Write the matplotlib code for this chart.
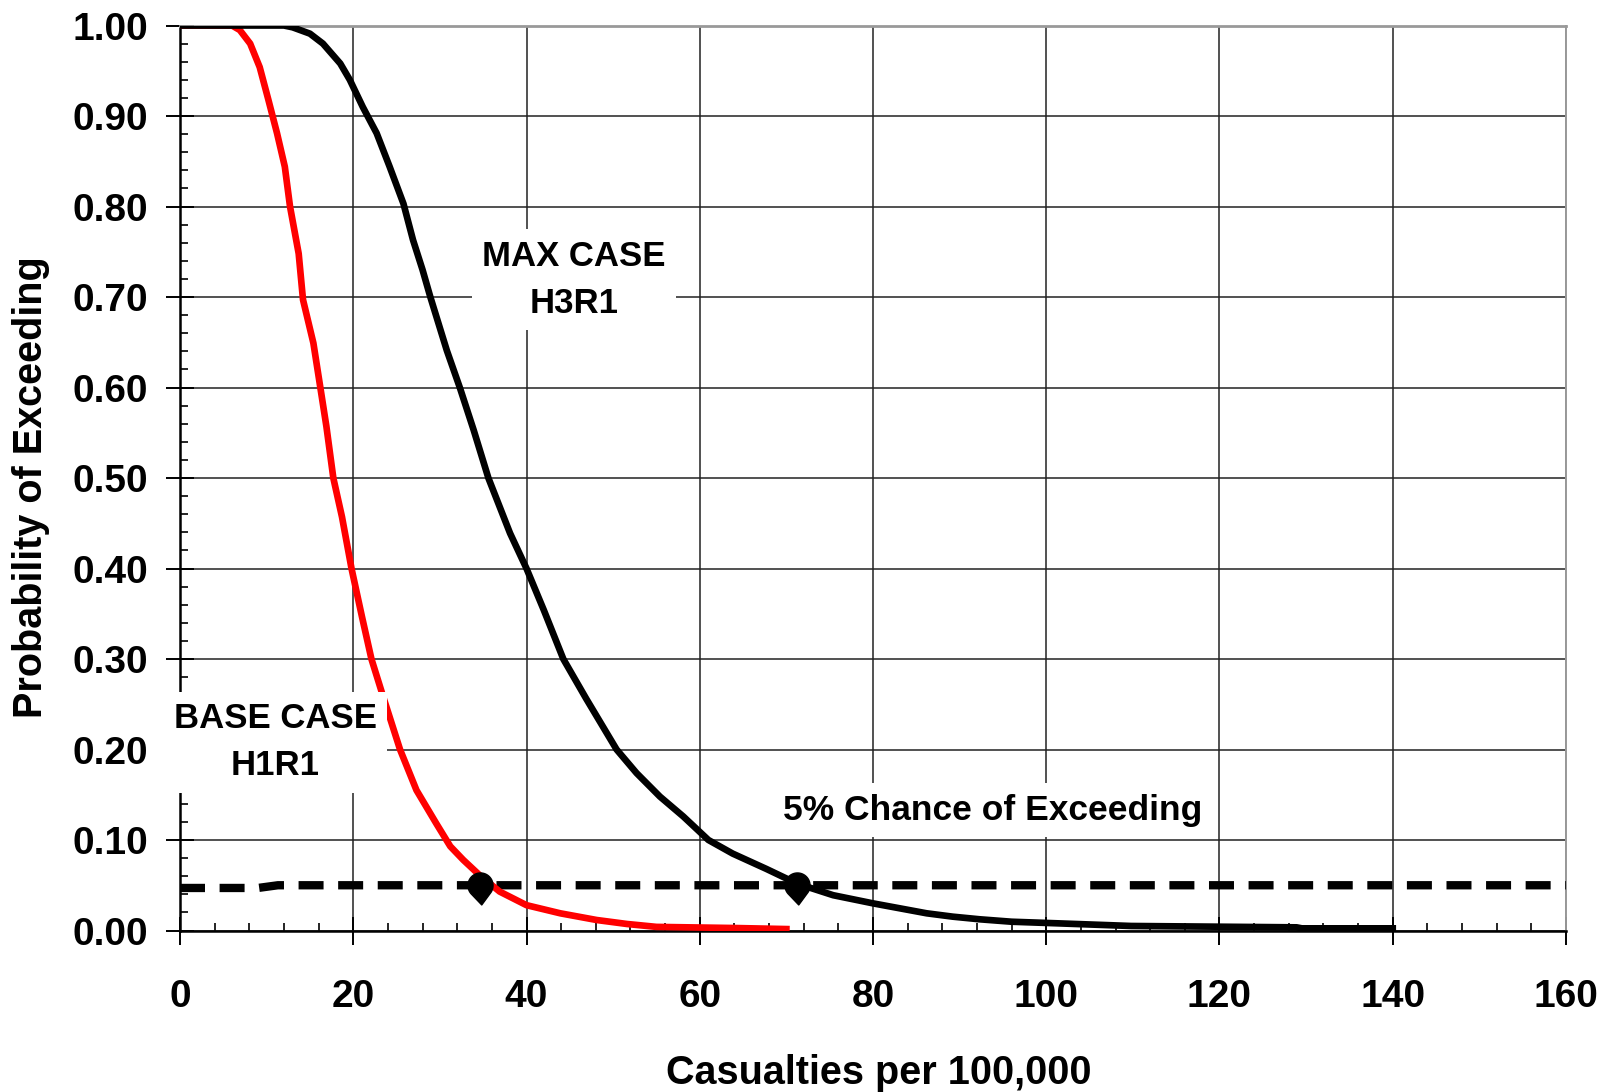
import numpy as np
import matplotlib
matplotlib.use('Agg')
import matplotlib.pyplot as plt
import matplotlib.path as mpath
from matplotlib.ticker import MultipleLocator, FormatStrFormatter

plt.rcParams['font.family'] = ['Liberation Sans', 'DejaVu Sans']
plt.rcParams['font.weight'] = 'bold'

# base case H1R1 (red)
base_x = [0, 6, 6.9, 8.1, 9.2, 10.2, 11.2, 12.1, 12.7, 13.7, 14.2, 15.4, 16.2,
          16.9, 17.7, 18.7, 19.8, 21.0, 22.1, 23.4, 25.4, 27.3, 29.6, 31.2,
          32.7, 34.6, 36.9, 40.0, 43.9, 48.1, 51.6, 55.0, 64.3, 70.0]
base_p = [1.0, 1.0, 0.995, 0.98, 0.954, 0.918, 0.881, 0.844, 0.80, 0.748, 0.697,
          0.649, 0.60, 0.557, 0.50, 0.457, 0.40, 0.347, 0.30, 0.26, 0.20, 0.155,
          0.118, 0.093, 0.078, 0.061, 0.043, 0.028, 0.019, 0.0116, 0.0072,
          0.004, 0.0027, 0.0016]

# max case H3R1 (black)
max_x = [0, 12, 13, 15, 16.5, 18.5, 19.6, 21.1, 22.7, 24.2, 25.8, 26.9, 28.0,
         28.9, 30.8, 32.3, 33.9, 35.6, 38.1, 40.0, 42.0, 44.25, 46.9, 50.4,
         52.7, 55.4, 58.1, 61.0, 63.8, 67.7, 71.2, 75.4, 80.0, 83.1, 86.2,
         89.2, 92.3, 96.0, 101.4, 109.8, 128.9, 129.5, 140.0]
max_p = [1.0, 1.0, 0.998, 0.991, 0.98, 0.958, 0.94, 0.91, 0.881, 0.844, 0.803,
         0.763, 0.73, 0.70, 0.641, 0.60, 0.553, 0.50, 0.439, 0.40, 0.354, 0.30,
         0.256, 0.20, 0.174, 0.148, 0.126, 0.10, 0.085, 0.068, 0.052, 0.039,
         0.030, 0.0245, 0.019, 0.0153, 0.0124, 0.0097, 0.0079, 0.005, 0.0035,
         0.0024, 0.0024]

# 5% threshold line
thresh_x = [0, 9, 11.3, 160]
thresh_p = [0.047, 0.047, 0.05, 0.05]

# crossing markers
cross_x = [34.6, 71.2]
cross_p = [0.05, 0.05]

x_ticks = [0, 20, 40, 60, 80, 100, 120, 140, 160]

# teardrop marker: round top, pointed bottom
theta = np.linspace(np.radians(-40), np.radians(220), 40)
verts = list(zip(np.cos(theta), np.sin(theta))) + [(0.1, -1.55)]
verts.append(verts[0])
drop = mpath.Path(np.array(verts), closed=True)

fig = plt.figure(figsize=(16.05, 10.92), dpi=100)
ax = fig.add_axes([0.11215, 0.14789, 0.86355, 0.82875])

ax.plot(thresh_x, thresh_p, color='black', lw=6.0, dashes=(3.0, 1.75),
        dash_capstyle='butt', zorder=3)
ax.plot(base_x, base_p, color='#ff0000', lw=4.8, zorder=4)
ax.plot(max_x, max_p, color='black', lw=4.8, zorder=4)
ax.plot(cross_x, cross_p, ls='none', marker=drop, ms=28, color='black', zorder=5)

ax.set_xlim(0, 160)
ax.set_ylim(0, 1)
ax.set_xticks(x_ticks)
ax.xaxis.set_minor_locator(MultipleLocator(4))
ax.yaxis.set_major_locator(MultipleLocator(0.1))
ax.yaxis.set_minor_locator(MultipleLocator(0.02))
ax.yaxis.set_major_formatter(FormatStrFormatter('%.2f'))

ax.grid(which='major', color='#222222', linewidth=1.1)
ax.set_axisbelow(True)

ax.tick_params(which='major', direction='inout', length=20, width=1.4,
               labelsize=28, color='black')
ax.tick_params(axis='y', which='major', pad=13)
ax.tick_params(axis='x', which='major', pad=25)
ax.tick_params(which='minor', direction='in', length=6, width=1.2)

for side in ['left', 'bottom']:
    ax.spines[side].set_color('black')
    ax.spines[side].set_linewidth(1.8)
ax.spines['top'].set_color('#999999')
ax.spines['top'].set_linewidth(2.0)
ax.spines['right'].set_color('#999999')
ax.spines['right'].set_linewidth(1.4)

ax.set_xlabel('Casualties per 100,000', fontsize=28.5, fontweight='bold')
ax.xaxis.set_label_coords(0.504, -0.137)
ax.set_ylabel('Probability of Exceeding', fontsize=28.5, fontweight='bold')
ax.yaxis.set_label_coords(-0.094, 0.49)

box = dict(boxstyle='square,pad=0.3', fc='white', ec='none')
ax.text(45.5, 0.719, 'MAX CASE\nH3R1', ha='center', va='center', fontsize=25,
        linespacing=1.55, bbox=box, zorder=6, clip_on=False)
ax.text(11.0, 0.208, 'BASE CASE\nH1R1', ha='center', va='center', fontsize=25,
        linespacing=1.55, bbox=box, zorder=6, clip_on=False)
ax.text(93.85, 0.133, '5% Chance of Exceeding', ha='center', va='center',
        fontsize=25.5, bbox=box, zorder=6, clip_on=False)

fig.savefig('out.png', dpi=100)
